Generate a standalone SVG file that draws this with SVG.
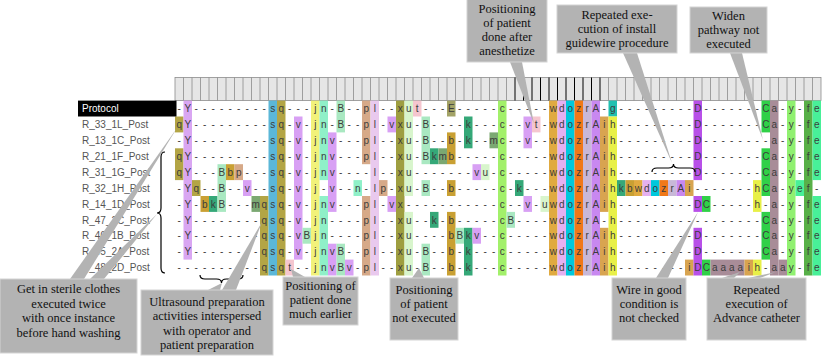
<svg xmlns="http://www.w3.org/2000/svg" width="822" height="356" viewBox="0 0 822 356">
<style>
.lbl{font-family:"Liberation Sans",Arial,sans-serif;font-size:10px;fill:#555}
.seq{font-family:"Liberation Sans",Arial,sans-serif;font-size:10px;fill:#3c3c3c;text-anchor:middle}
.note{font-family:"Liberation Serif","Times New Roman",serif;font-size:12.5px;fill:#111;text-anchor:middle}
.box{fill:#b3b3b3;stroke:#d4d4d4;stroke-width:1}
.ptr{fill:#b3b3b3}
.brace{fill:none;stroke:#000;stroke-width:1.2}
.cY{fill:#d9a6f2}.cq{fill:#b3a545}.cs{fill:#5bb7d8}.cv{fill:#d8a0f4}.cj{fill:#f2f27a}.cn{fill:#8ff0c8}
.cB{fill:#a9e8c1}.cp{fill:#d6a988}.cl{fill:#e9c9ee}.cx{fill:#9e9e40}.cu{fill:#d8f5cc}.ct{fill:#f5c6cf}
.cE{fill:#a3a367}.cc{fill:#a2f06a}.ck{fill:#35a878}.cb{fill:#c9a033}.cm{fill:#7ba872}.cw{fill:#e0aa40}
.cd{fill:#e4b0f0}.co{fill:#00c8dc}.cz{fill:#f07818}.cr{fill:#c8b8d8}.cA{fill:#c888f0}.ci{fill:#d8a450}
.ch{fill:#e8f048}.cg{fill:#20c0b0}.cD{fill:#b850e8}.cC{fill:#30d048}.ca{fill:#a88c98}.cy{fill:#90f070}
.cf{fill:#58b048}.ce{fill:#48f098}
</style>

<g id="header">
<rect x="175" y="77.5" width="646" height="23" fill="#e6e6e6" stroke="#8c8c8c" stroke-width="0.8"/>
<path d="M183.5 77.5V100.5M192 77.5V100.5M200.5 77.5V100.5M209 77.5V100.5M217.5 77.5V100.5M226 77.5V100.5M234.5 77.5V100.5M243 77.5V100.5M251.5 77.5V100.5M260 77.5V100.5M268.5 77.5V100.5M277 77.5V100.5M285.5 77.5V100.5M294 77.5V100.5M302.5 77.5V100.5M311 77.5V100.5M319.5 77.5V100.5M328 77.5V100.5M336.5 77.5V100.5M345 77.5V100.5M353.5 77.5V100.5M362 77.5V100.5M370.5 77.5V100.5M379 77.5V100.5M387.5 77.5V100.5M396 77.5V100.5M404.5 77.5V100.5M413 77.5V100.5M421.5 77.5V100.5M430 77.5V100.5M438.5 77.5V100.5M447 77.5V100.5M455.5 77.5V100.5M464 77.5V100.5M472.5 77.5V100.5M481 77.5V100.5M489.5 77.5V100.5M498 77.5V100.5M506.5 77.5V100.5M608.5 77.5V100.5M617 77.5V100.5M625.5 77.5V100.5M634 77.5V100.5M642.5 77.5V100.5M651 77.5V100.5M659.5 77.5V100.5M668 77.5V100.5M676.5 77.5V100.5M685 77.5V100.5M693.5 77.5V100.5M702 77.5V100.5M710.5 77.5V100.5M719 77.5V100.5M727.5 77.5V100.5M736 77.5V100.5M744.5 77.5V100.5M753 77.5V100.5M761.5 77.5V100.5M770 77.5V100.5M778.5 77.5V100.5M787 77.5V100.5M795.5 77.5V100.5M804 77.5V100.5M812.5 77.5V100.5" stroke="#8c8c8c" stroke-width="0.8" fill="none"/>
<path d="M515 77.5V100.5M523.5 77.5V100.5M532 77.5V100.5M540.5 77.5V100.5M549 77.5V100.5M557.5 77.5V100.5M566 77.5V100.5M574.5 77.5V100.5M583 77.5V100.5M591.5 77.5V100.5M600 77.5V100.5" stroke="#000" stroke-width="1" fill="none"/>
</g>

<g id="cells">
<rect class="cq" x="175" y="116.5" width="8.5" height="15.9"/>
<rect class="cq" x="175" y="148.3" width="8.5" height="31.8"/>
<rect class="cY" x="183.5" y="100.6" width="8.5" height="159"/>
<rect class="cq" x="192" y="180.1" width="8.5" height="15.9"/>
<rect class="cb" x="200.5" y="196" width="8.5" height="15.9"/>
<rect class="ck" x="209" y="196" width="8.5" height="15.9"/>
<rect class="cB" x="217.5" y="164.2" width="8.5" height="47.7"/>
<rect class="cb" x="226" y="164.2" width="8.5" height="15.9"/>
<rect class="cp" x="234.5" y="164.2" width="8.5" height="15.9"/>
<rect class="cv" x="243" y="180.1" width="8.5" height="15.9"/>
<rect class="cm" x="251.5" y="196" width="8.5" height="15.9"/>
<rect class="cq" x="260" y="196" width="8.5" height="79.5"/>
<rect class="cs" x="268.5" y="100.6" width="8.5" height="174.9"/>
<rect class="cq" x="277" y="100.6" width="8.5" height="174.9"/>
<rect class="ct" x="285.5" y="259.6" width="8.5" height="15.9"/>
<rect class="cv" x="294" y="116.5" width="8.5" height="143.1"/>
<rect class="cB" x="302.5" y="227.8" width="8.5" height="15.9"/>
<rect class="cj" x="311" y="100.6" width="8.5" height="174.9"/>
<rect class="cn" x="319.5" y="100.6" width="8.5" height="79.5"/>
<rect class="cn" x="319.5" y="196" width="8.5" height="79.5"/>
<rect class="cv" x="328" y="132.4" width="8.5" height="79.5"/>
<rect class="cv" x="328" y="243.7" width="8.5" height="31.8"/>
<rect class="cB" x="336.5" y="100.6" width="8.5" height="31.8"/>
<rect class="cB" x="336.5" y="243.7" width="8.5" height="31.8"/>
<rect class="cv" x="345" y="259.6" width="8.5" height="15.9"/>
<rect class="cn" x="353.5" y="180.1" width="8.5" height="15.9"/>
<rect class="cp" x="362" y="100.6" width="8.5" height="63.6"/>
<rect class="cp" x="362" y="196" width="8.5" height="79.5"/>
<rect class="cl" x="370.5" y="100.6" width="8.5" height="174.9"/>
<rect class="cp" x="379" y="180.1" width="8.5" height="15.9"/>
<rect class="cv" x="387.5" y="116.5" width="8.5" height="15.9"/>
<rect class="cv" x="387.5" y="196" width="8.5" height="15.9"/>
<rect class="cx" x="396" y="100.6" width="8.5" height="174.9"/>
<rect class="cu" x="404.5" y="100.6" width="8.5" height="95.4"/>
<rect class="cu" x="404.5" y="211.9" width="8.5" height="63.6"/>
<rect class="ct" x="413" y="100.6" width="8.5" height="15.9"/>
<rect class="cB" x="421.5" y="116.5" width="8.5" height="47.7"/>
<rect class="cB" x="421.5" y="180.1" width="8.5" height="15.9"/>
<rect class="cB" x="421.5" y="243.7" width="8.5" height="31.8"/>
<rect class="ck" x="430" y="148.3" width="8.5" height="15.9"/>
<rect class="ck" x="430" y="211.9" width="8.5" height="15.9"/>
<rect class="cm" x="438.5" y="148.3" width="8.5" height="15.9"/>
<rect class="cE" x="447" y="100.6" width="8.5" height="15.9"/>
<rect class="cb" x="447" y="132.4" width="8.5" height="31.8"/>
<rect class="cb" x="447" y="180.1" width="8.5" height="15.9"/>
<rect class="cb" x="447" y="211.9" width="8.5" height="63.6"/>
<rect class="cB" x="455.5" y="227.8" width="8.5" height="15.9"/>
<rect class="ck" x="464" y="116.5" width="8.5" height="31.8"/>
<rect class="ck" x="464" y="227.8" width="8.5" height="47.7"/>
<rect class="cv" x="472.5" y="164.2" width="8.5" height="15.9"/>
<rect class="cv" x="472.5" y="227.8" width="8.5" height="15.9"/>
<rect class="cu" x="481" y="164.2" width="8.5" height="15.9"/>
<rect class="cm" x="489.5" y="132.4" width="8.5" height="15.9"/>
<rect class="cc" x="498" y="100.6" width="8.5" height="174.9"/>
<rect class="cB" x="506.5" y="211.9" width="8.5" height="15.9"/>
<rect class="ck" x="515" y="180.1" width="8.5" height="15.9"/>
<rect class="cv" x="523.5" y="116.5" width="8.5" height="31.8"/>
<rect class="cv" x="523.5" y="196" width="8.5" height="15.9"/>
<rect class="ct" x="532" y="116.5" width="8.5" height="15.9"/>
<rect class="cu" x="540.5" y="196" width="8.5" height="15.9"/>
<rect class="cw" x="549" y="100.6" width="8.5" height="174.9"/>
<rect class="cd" x="557.5" y="100.6" width="8.5" height="174.9"/>
<rect class="co" x="566" y="100.6" width="8.5" height="174.9"/>
<rect class="cz" x="574.5" y="100.6" width="8.5" height="174.9"/>
<rect class="cr" x="583" y="100.6" width="8.5" height="174.9"/>
<rect class="cA" x="591.5" y="100.6" width="8.5" height="174.9"/>
<rect class="ci" x="600" y="116.5" width="8.5" height="95.4"/>
<rect class="ci" x="600" y="227.8" width="8.5" height="47.7"/>
<rect class="cg" x="608.5" y="100.6" width="8.5" height="15.9"/>
<rect class="ch" x="608.5" y="116.5" width="8.5" height="159"/>
<rect class="ck" x="617" y="180.1" width="8.5" height="15.9"/>
<rect class="cb" x="625.5" y="180.1" width="8.5" height="15.9"/>
<rect class="cw" x="634" y="180.1" width="8.5" height="15.9"/>
<rect class="cd" x="642.5" y="180.1" width="8.5" height="15.9"/>
<rect class="co" x="651" y="180.1" width="8.5" height="15.9"/>
<rect class="cz" x="659.5" y="180.1" width="8.5" height="15.9"/>
<rect class="cr" x="668" y="180.1" width="8.5" height="15.9"/>
<rect class="cA" x="676.5" y="180.1" width="8.5" height="15.9"/>
<rect class="ci" x="685" y="180.1" width="8.5" height="15.9"/>
<rect class="ci" x="685" y="259.6" width="8.5" height="15.9"/>
<rect class="cD" x="693.5" y="100.6" width="8.5" height="79.5"/>
<rect class="cD" x="693.5" y="196" width="8.5" height="15.9"/>
<rect class="cD" x="693.5" y="227.8" width="8.5" height="47.7"/>
<rect class="cC" x="702" y="196" width="8.5" height="15.9"/>
<rect class="cC" x="702" y="259.6" width="8.5" height="15.9"/>
<rect class="ca" x="710.5" y="259.6" width="34" height="15.9"/>
<rect class="ci" x="744.5" y="259.6" width="8.5" height="15.9"/>
<rect class="ch" x="753" y="180.1" width="8.5" height="31.8"/>
<rect class="ch" x="753" y="259.6" width="8.5" height="15.9"/>
<rect class="cC" x="761.5" y="100.6" width="8.5" height="31.8"/>
<rect class="cC" x="761.5" y="148.3" width="8.5" height="47.7"/>
<rect class="cC" x="761.5" y="211.9" width="8.5" height="47.7"/>
<rect class="ca" x="770" y="100.6" width="8.5" height="174.9"/>
<rect class="ca" x="778.5" y="259.6" width="8.5" height="15.9"/>
<rect class="cy" x="787" y="100.6" width="8.5" height="174.9"/>
<rect class="ce" x="795.5" y="180.1" width="8.5" height="15.9"/>
<rect class="cf" x="804" y="100.6" width="8.5" height="174.9"/>
<rect class="ce" x="812.5" y="100.6" width="8.5" height="79.5"/>
<rect class="ce" x="812.5" y="196" width="8.5" height="79.5"/>
</g>

<g id="row-Protocol">
<rect x="78" y="100.6" width="98.5" height="15.9" fill="#000"/>
<text x="82" y="112.2" font-family="Liberation Sans, Arial, sans-serif" font-size="10" fill="#fff">Protocol</text>
<text class="seq" y="112.2" x="179.25 187.75 196.25 204.75 213.25 221.75 230.25 238.75 247.25 255.75 264.25 272.75 281.25 289.75 298.25 306.75 315.25 323.75 332.25 340.75 349.25 357.75 366.25 374.75 383.25 391.75 400.25 408.75 417.25 425.75 434.25 442.75 451.25 459.75 468.25 476.75 485.25 493.75 502.25 510.75 519.25 527.75 536.25 544.75 553.25 561.75 570.25 578.75 587.25 595.75 604.25 612.75 621.25 629.75 638.25 646.75 655.25 663.75 672.25 680.75 689.25 697.75 706.25 714.75 723.25 731.75 740.25 748.75 757.25 765.75 774.25 782.75 791.25 799.75 808.25 816.75">-Y---------sq---jn-B--pl--xut---E-----c-----wdozrA-g---------D-------Ca-y-fe</text>
</g>
<g id="row-R_33_1L_Post">
<text class="lbl" x="82" y="128.1">R_33_1L_Post</text>
<text class="seq" y="128.1" x="179.25 187.75 196.25 204.75 213.25 221.75 230.25 238.75 247.25 255.75 264.25 272.75 281.25 289.75 298.25 306.75 315.25 323.75 332.25 340.75 349.25 357.75 366.25 374.75 383.25 391.75 400.25 408.75 417.25 425.75 434.25 442.75 451.25 459.75 468.25 476.75 485.25 493.75 502.25 510.75 519.25 527.75 536.25 544.75 553.25 561.75 570.25 578.75 587.25 595.75 604.25 612.75 621.25 629.75 638.25 646.75 655.25 663.75 672.25 680.75 689.25 697.75 706.25 714.75 723.25 731.75 740.25 748.75 757.25 765.75 774.25 782.75 791.25 799.75 808.25 816.75">qY---------sq-v-jn-B--pl-vxu-B----k---c--vt-wdozrAih---------D-------Ca-y-fe</text>
</g>
<g id="row-R_13_1C_Post">
<text class="lbl" x="82" y="144">R_13_1C_Post</text>
<text class="seq" y="144" x="179.25 187.75 196.25 204.75 213.25 221.75 230.25 238.75 247.25 255.75 264.25 272.75 281.25 289.75 298.25 306.75 315.25 323.75 332.25 340.75 349.25 357.75 366.25 374.75 383.25 391.75 400.25 408.75 417.25 425.75 434.25 442.75 451.25 459.75 468.25 476.75 485.25 493.75 502.25 510.75 519.25 527.75 536.25 544.75 553.25 561.75 570.25 578.75 587.25 595.75 604.25 612.75 621.25 629.75 638.25 646.75 655.25 663.75 672.25 680.75 689.25 697.75 706.25 714.75 723.25 731.75 740.25 748.75 757.25 765.75 774.25 782.75 791.25 799.75 808.25 816.75">-Y---------sq-v-jnv---pl--xu-B--b-k--mc--v--wdozrAih---------D--------a-y-fe</text>
</g>
<g id="row-R_21_1F_Post">
<text class="lbl" x="82" y="159.9">R_21_1F_Post</text>
<text class="seq" y="159.9" x="179.25 187.75 196.25 204.75 213.25 221.75 230.25 238.75 247.25 255.75 264.25 272.75 281.25 289.75 298.25 306.75 315.25 323.75 332.25 340.75 349.25 357.75 366.25 374.75 383.25 391.75 400.25 408.75 417.25 425.75 434.25 442.75 451.25 459.75 468.25 476.75 485.25 493.75 502.25 510.75 519.25 527.75 536.25 544.75 553.25 561.75 570.25 578.75 587.25 595.75 604.25 612.75 621.25 629.75 638.25 646.75 655.25 663.75 672.25 680.75 689.25 697.75 706.25 714.75 723.25 731.75 740.25 748.75 757.25 765.75 774.25 782.75 791.25 799.75 808.25 816.75">qY---------sq-v-jnv---pl--xu-Bkmb-----c-----wdozrAih---------D-------Ca-y-fe</text>
</g>
<g id="row-R_31_1G_Post">
<text class="lbl" x="82" y="175.8">R_31_1G_Post</text>
<text class="seq" y="175.8" x="179.25 187.75 196.25 204.75 213.25 221.75 230.25 238.75 247.25 255.75 264.25 272.75 281.25 289.75 298.25 306.75 315.25 323.75 332.25 340.75 349.25 357.75 366.25 374.75 383.25 391.75 400.25 408.75 417.25 425.75 434.25 442.75 451.25 459.75 468.25 476.75 485.25 493.75 502.25 510.75 519.25 527.75 536.25 544.75 553.25 561.75 570.25 578.75 587.25 595.75 604.25 612.75 621.25 629.75 638.25 646.75 655.25 663.75 672.25 680.75 689.25 697.75 706.25 714.75 723.25 731.75 740.25 748.75 757.25 765.75 774.25 782.75 791.25 799.75 808.25 816.75">qY---Bbp---sq-v-jnv----l--xu-------vu-c-----wdozrAih---------D-------Ca-y-fe</text>
</g>
<g id="row-R_32_1H_Post">
<text class="lbl" x="82" y="191.7">R_32_1H_Post</text>
<text class="seq" y="191.7" x="179.25 187.75 196.25 204.75 213.25 221.75 230.25 238.75 247.25 255.75 264.25 272.75 281.25 289.75 298.25 306.75 315.25 323.75 332.25 340.75 349.25 357.75 366.25 374.75 383.25 391.75 400.25 408.75 417.25 425.75 434.25 442.75 451.25 459.75 468.25 476.75 485.25 493.75 502.25 510.75 519.25 527.75 536.25 544.75 553.25 561.75 570.25 578.75 587.25 595.75 604.25 612.75 621.25 629.75 638.25 646.75 655.25 663.75 672.25 680.75 689.25 697.75 706.25 714.75 723.25 731.75 740.25 748.75 757.25 765.75 774.25 782.75 791.25 799.75 808.25 816.75">-Yq--B--v--sq-v-j-v--n-lp-xu-B--b-----c-k---wdozrAihkbwdozrAi-------hCa-yef-</text>
</g>
<g id="row-R_14_1D_Post">
<text class="lbl" x="82" y="207.6">R_14_1D_Post</text>
<text class="seq" y="207.6" x="179.25 187.75 196.25 204.75 213.25 221.75 230.25 238.75 247.25 255.75 264.25 272.75 281.25 289.75 298.25 306.75 315.25 323.75 332.25 340.75 349.25 357.75 366.25 374.75 383.25 391.75 400.25 408.75 417.25 425.75 434.25 442.75 451.25 459.75 468.25 476.75 485.25 493.75 502.25 510.75 519.25 527.75 536.25 544.75 553.25 561.75 570.25 578.75 587.25 595.75 604.25 612.75 621.25 629.75 638.25 646.75 655.25 663.75 672.25 680.75 689.25 697.75 706.25 714.75 723.25 731.75 740.25 748.75 757.25 765.75 774.25 782.75 791.25 799.75 808.25 816.75">-Y-bkB---mqsq-v-jnv---pl-vx-----------c--v-uwdozrAih---------DC-----h-a-y-fe</text>
</g>
<g id="row-R_47_2C_Post">
<text class="lbl" x="82" y="223.5">R_47_2C_Post</text>
<text class="seq" y="223.5" x="179.25 187.75 196.25 204.75 213.25 221.75 230.25 238.75 247.25 255.75 264.25 272.75 281.25 289.75 298.25 306.75 315.25 323.75 332.25 340.75 349.25 357.75 366.25 374.75 383.25 391.75 400.25 408.75 417.25 425.75 434.25 442.75 451.25 459.75 468.25 476.75 485.25 493.75 502.25 510.75 519.25 527.75 536.25 544.75 553.25 561.75 570.25 578.75 587.25 595.75 604.25 612.75 621.25 629.75 638.25 646.75 655.25 663.75 672.25 680.75 689.25 697.75 706.25 714.75 723.25 731.75 740.25 748.75 757.25 765.75 774.25 782.75 791.25 799.75 808.25 816.75">-Y--------qsq-v-jn----pl--xu--k-b-----cB----wdozrA-h-----------------Ca-y-fe</text>
</g>
<g id="row-R_46_1B_Post">
<text class="lbl" x="82" y="239.4">R_46_1B_Post</text>
<text class="seq" y="239.4" x="179.25 187.75 196.25 204.75 213.25 221.75 230.25 238.75 247.25 255.75 264.25 272.75 281.25 289.75 298.25 306.75 315.25 323.75 332.25 340.75 349.25 357.75 366.25 374.75 383.25 391.75 400.25 408.75 417.25 425.75 434.25 442.75 451.25 459.75 468.25 476.75 485.25 493.75 502.25 510.75 519.25 527.75 536.25 544.75 553.25 561.75 570.25 578.75 587.25 595.75 604.25 612.75 621.25 629.75 638.25 646.75 655.25 663.75 672.25 680.75 689.25 697.75 706.25 714.75 723.25 731.75 740.25 748.75 757.25 765.75 774.25 782.75 791.25 799.75 808.25 816.75">-Y--------qsq-vBjn----pl--xu----bBkv--c-----wdozrAih---------D-------Ca-y-fe</text>
</g>
<g id="row-R_45_2A_Post">
<text class="lbl" x="82" y="255.3">R_45_2A_Post</text>
<text class="seq" y="255.3" x="179.25 187.75 196.25 204.75 213.25 221.75 230.25 238.75 247.25 255.75 264.25 272.75 281.25 289.75 298.25 306.75 315.25 323.75 332.25 340.75 349.25 357.75 366.25 374.75 383.25 391.75 400.25 408.75 417.25 425.75 434.25 442.75 451.25 459.75 468.25 476.75 485.25 493.75 502.25 510.75 519.25 527.75 536.25 544.75 553.25 561.75 570.25 578.75 587.25 595.75 604.25 612.75 621.25 629.75 638.25 646.75 655.25 663.75 672.25 680.75 689.25 697.75 706.25 714.75 723.25 731.75 740.25 748.75 757.25 765.75 774.25 782.75 791.25 799.75 808.25 816.75">-Y--------qsq-v-jnvB--pl--xu-B--b-k---c-----wdozrAih---------D-------Ca-y-fe</text>
</g>
<g id="row-R_48_2D_Post">
<text class="lbl" x="82" y="271.2">R_48_2D_Post</text>
<text class="seq" y="271.2" x="179.25 187.75 196.25 204.75 213.25 221.75 230.25 238.75 247.25 255.75 264.25 272.75 281.25 289.75 298.25 306.75 315.25 323.75 332.25 340.75 349.25 357.75 366.25 374.75 383.25 391.75 400.25 408.75 417.25 425.75 434.25 442.75 451.25 459.75 468.25 476.75 485.25 493.75 502.25 510.75 519.25 527.75 536.25 544.75 553.25 561.75 570.25 578.75 587.25 595.75 604.25 612.75 621.25 629.75 638.25 646.75 655.25 663.75 672.25 680.75 689.25 697.75 706.25 714.75 723.25 731.75 740.25 748.75 757.25 765.75 774.25 782.75 791.25 799.75 808.25 816.75">----------qsqt--jnvBv-pl--xu-B--b-k---c-----wdozrAih--------iDCaaaaih-aay-fe</text>
</g>

<g id="braces">
<path class="brace" d="M165 152Q161 152 161 157L161 208Q161 213 157 213Q161 213 161 218L161 268Q161 273 165 273"/>
<path class="brace" d="M200 275Q200 279 205 279L216.5 279Q221.5 279 221.5 283Q221.5 279 226.5 279L238 279Q243 279 243 275"/>
<path class="brace" d="M652 172Q652 168 657 168L668.5 168Q673.5 168 673.5 164Q673.5 168 678.5 168L690 168Q695 168 695 172"/>
</g>

<g id="connectors">
<polygon class="ptr" points="510,62 522,62 534,124"/>
<polygon class="ptr" points="623,53 637,53 672,163"/>
<polygon class="ptr" points="730,53 742,53 763,140"/>
<polygon class="ptr" points="70,279 84,279 177,128"/>
<polygon class="ptr" points="90,279 104,279 157,214"/>
<polygon class="ptr" points="208,290 220,290 222,283"/>
<polygon class="ptr" points="222,290 236,290 262,222"/>
<polygon class="ptr" points="293,277 305,277 291,269"/>
<polygon class="ptr" points="412,278 424,278 419,268"/>
<polygon class="ptr" points="656,278 668,278 698,212"/>
<polygon class="ptr" points="722,278 734,278 740,272"/>
<polygon class="ptr" points="748,278 760,278 776,272"/>
</g>

<g id="note-anesthetize">
<rect class="box" x="467" y="-1" width="80" height="63"/>
<text class="note" x="507" y="13">Positioning</text>
<text class="note" x="507" y="27">of patient</text>
<text class="note" x="507" y="41">done after</text>
<text class="note" x="507" y="55">anesthetize</text>
</g>
<g id="note-guidewire">
<rect class="box" x="557" y="5" width="120" height="48"/>
<text class="note" x="617" y="19">Repeated exe-</text>
<text class="note" x="617" y="33">cution of install</text>
<text class="note" x="617" y="47">guidewire procedure</text>
</g>
<g id="note-widen">
<rect class="box" x="690" y="7" width="77" height="46"/>
<text class="note" x="728.5" y="20">Widen</text>
<text class="note" x="728.5" y="34">pathway not</text>
<text class="note" x="728.5" y="48">executed</text>
</g>
<g id="note-sterile">
<rect class="box" x="0" y="279" width="137" height="74"/>
<text class="note" x="68.5" y="293">Get in sterile clothes</text>
<text class="note" x="68.5" y="308">executed twice</text>
<text class="note" x="68.5" y="322">with once instance</text>
<text class="note" x="68.5" y="337">before hand washing</text>
</g>
<g id="note-ultrasound">
<rect class="box" x="141" y="290" width="132" height="65"/>
<text class="note" x="207" y="306">Ultrasound preparation</text>
<text class="note" x="207" y="320">activities interspersed</text>
<text class="note" x="207" y="335">with operator and</text>
<text class="note" x="207" y="349">patient preparation</text>
</g>
<g id="note-earlier">
<rect class="box" x="283" y="277" width="75" height="48"/>
<text class="note" x="320.5" y="290">Positioning of</text>
<text class="note" x="320.5" y="304">patient done</text>
<text class="note" x="320.5" y="318">much earlier</text>
</g>
<g id="note-notexec">
<rect class="box" x="390" y="278" width="68" height="62"/>
<text class="note" x="424" y="294">Positioning</text>
<text class="note" x="424" y="308">of patient</text>
<text class="note" x="424" y="322">not executed</text>
</g>
<g id="note-wire">
<rect class="box" x="612" y="278" width="74" height="62"/>
<text class="note" x="649" y="294">Wire in good</text>
<text class="note" x="649" y="308">condition is</text>
<text class="note" x="649" y="322">not checked</text>
</g>
<g id="note-catheter">
<rect class="box" x="707" y="278" width="99" height="62"/>
<text class="note" x="756.5" y="294">Repeated</text>
<text class="note" x="756.5" y="308">execution of</text>
<text class="note" x="756.5" y="322">Advance catheter</text>
</g>
</svg>
